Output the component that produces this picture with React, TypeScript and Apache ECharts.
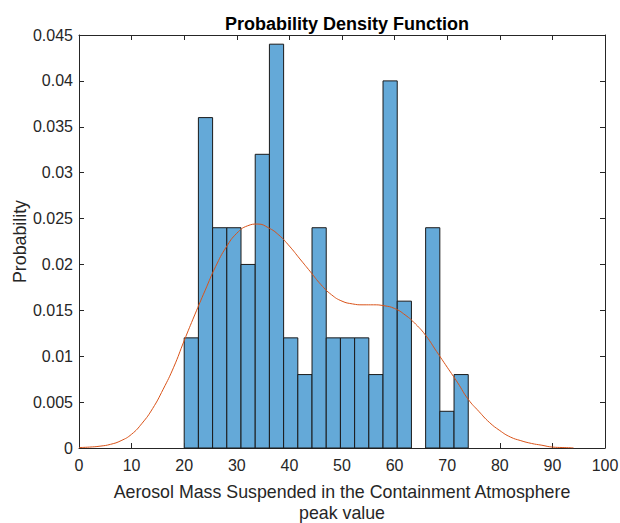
import React, { useEffect, useRef } from "react";
import * as echarts from "echarts";

const binEdges = [20, 22.7, 25.4, 28.1, 30.8, 33.5, 36.2, 38.9, 41.6, 44.3, 47, 49.7, 52.4, 55.1, 57.8, 60.5, 63.2, 65.9, 68.6, 71.3, 74];
const binDensity = [0.012, 0.036, 0.024, 0.024, 0.020, 0.032, 0.044, 0.012, 0.008, 0.024, 0.012, 0.012, 0.012, 0.008, 0.040, 0.016, 0, 0.024, 0.004, 0.008];

const pdfX = [0, 2, 4, 6, 8, 10, 12, 14, 16, 18, 20, 22, 24, 26, 28, 30, 32, 34, 36, 38, 40, 42, 44, 46, 48, 50, 52, 54, 56, 58, 60, 62, 64, 66, 68, 70, 72, 74, 76, 78, 80, 82, 84, 86, 88, 90, 92, 94];
const pdfY = [0.00005, 0.0001, 0.0002, 0.0004, 0.0008, 0.0015, 0.0027, 0.0043, 0.0064, 0.0088, 0.0117, 0.0145, 0.0172, 0.0198, 0.0219, 0.0234, 0.0242, 0.0244, 0.0240, 0.0232, 0.0220, 0.0206, 0.0192, 0.0178, 0.0167, 0.0160, 0.0157, 0.0156, 0.0156, 0.0155, 0.0152, 0.0145, 0.0135, 0.0122, 0.0105, 0.0088, 0.0071, 0.0053, 0.0040, 0.0028, 0.0019, 0.0012, 0.0008, 0.0005, 0.0003, 0.0001, 0.00005, 0.00002];

const xTicks = { min: 0, max: 100, interval: 10 };
const yTicks = { min: 0, max: 0.045, interval: 0.005 };

const FONT = "'Liberation Sans', Arial, Helvetica, sans-serif";
const AX = "#262626";

export default function App() {
  const ref = useRef<HTMLDivElement>(null);
  useEffect(() => {
    if (!ref.current) return;
    const chart = echarts.init(ref.current, null, { renderer: "svg" });
    const bars = binDensity.map((d, i) => [binEdges[i], binEdges[i + 1], d]);
    const line = pdfX.map((x, i) => [x, pdfY[i]]);
    const axisCommon = {
      axisLine: { show: true, onZero: false, lineStyle: { color: AX, width: 1 } },
      axisTick: { show: true, inside: true, length: 5, lineStyle: { color: AX } },
      splitLine: { show: false },
    };
    chart.setOption({
      animation: false,
      backgroundColor: "#fff",
      textStyle: { fontFamily: FONT },
      title: {
        text: "Probability Density Function",
        left: 342,
        top: 10,
        textAlign: "center",
        textStyle: { fontFamily: FONT, fontSize: 18, fontWeight: "bold", color: "#000" },
      },
      grid: { left: 79, top: 35, width: 526, height: 413, containLabel: false, outerBoundsMode: "none" },
      xAxis: [
        {
          type: "value",
          ...xTicks,
          position: "bottom",
          ...axisCommon,
          axisLabel: { color: AX, fontSize: 16, fontFamily: FONT, margin: 9 },
          name: "Aerosol Mass Suspended in the Containment Atmosphere\npeak value",
          nameLocation: "middle",
          nameGap: 33,
          nameMoveOverlap: false,
          nameTextStyle: { color: AX, fontSize: 17.8, fontFamily: FONT, lineHeight: 21 },
        },
        {
          type: "value",
          ...xTicks,
          position: "top",
          ...axisCommon,
          axisLabel: { show: false },
        },
      ],
      yAxis: [
        {
          type: "value",
          ...yTicks,
          position: "left",
          ...axisCommon,
          axisLabel: { color: AX, fontSize: 16, fontFamily: FONT, margin: 6 },
          name: "Probability",
          nameLocation: "middle",
          nameGap: 50,
          nameMoveOverlap: false,
          nameTextStyle: { color: AX, fontSize: 17.8, fontFamily: FONT },
        },
        {
          type: "value",
          ...yTicks,
          position: "right",
          ...axisCommon,
          axisLabel: { show: false },
        },
      ],
      series: [
        {
          type: "custom",
          xAxisIndex: 0,
          yAxisIndex: 0,
          data: bars,
          encode: { x: [0, 1], y: 2 },
          renderItem: (params: any, api: any) => {
            const p0 = api.coord([api.value(0), api.value(2)]);
            const p1 = api.coord([api.value(1), 0]);
            if (api.value(2) <= 0) return null;
            return {
              type: "rect",
              shape: { x: p0[0], y: p0[1], width: p1[0] - p0[0], height: p1[1] - p0[1] },
              style: { fill: "#64A9D8", stroke: "#1a1a1a", lineWidth: 1 },
            };
          },
        },
        {
          type: "line",
          xAxisIndex: 0,
          yAxisIndex: 0,
          data: line,
          smooth: true,
          showSymbol: false,
          lineStyle: { color: "#D95319", width: 1 },
        },
      ],
    });
    return () => chart.dispose();
  }, []);
  return <div ref={ref} style={{ position: "fixed", left: 0, top: 0, width: 620, height: 523 }} />;
}
